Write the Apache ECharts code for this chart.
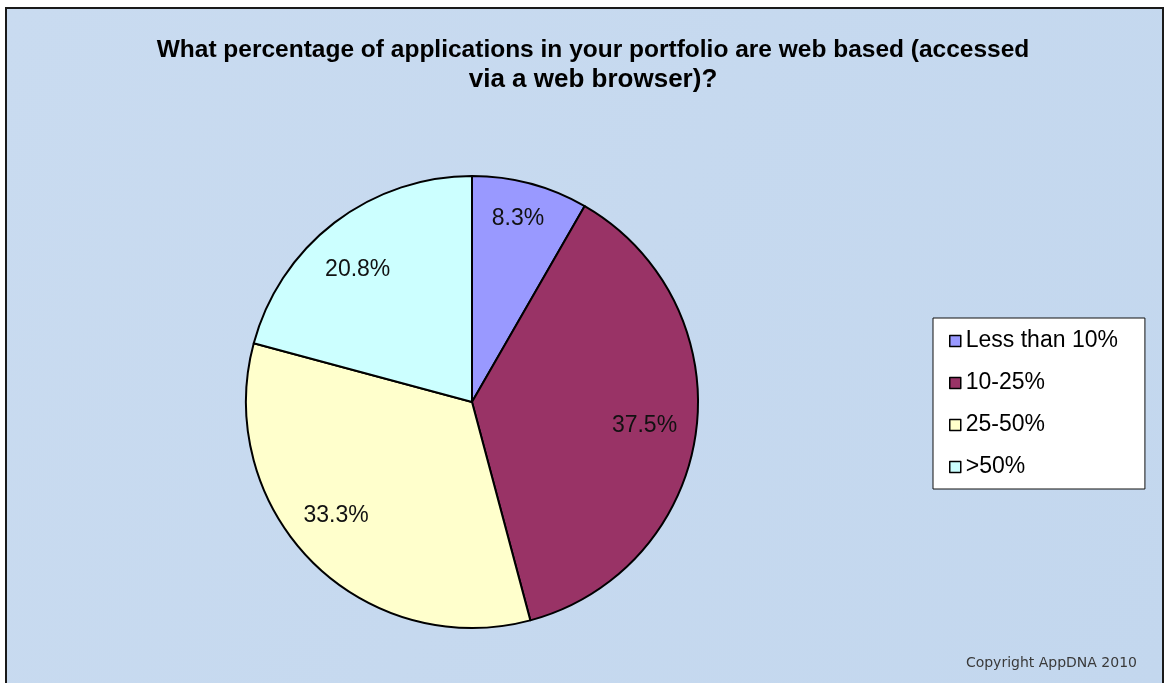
<!DOCTYPE html>
<html>
<head>
<meta charset="utf-8">
<script src="https://cdn.jsdelivr.net/npm/echarts@6/dist/echarts.min.js"></script>
<style>
  html, body { margin: 0; padding: 0; background: #ffffff; }
  #chart { position: absolute; left: 5px; top: 7px; width: 1155px; height: 678px; border: 2px solid #1a1a1a; border-bottom: none; }
</style>
</head>
<body>
<div id="chart"></div>
<script>
// categorias e valores
const categorias = ['Less than 10%', '10-25%', '25-50%', '>50%'];
const valores = [8.3, 37.5, 33.3, 20.8];
const cores = ['#9999ff', '#993366', '#ffffcc', '#ccffff'];
// pequenos ajustes dos rótulos (o Excel não os põe todos no mesmo raio)
const ajusteRotulos = [[0, -11], [-4, 0], [-10, -12], [-6, 9]];

const fonte = 'Liberation Sans, Arial, sans-serif';
const centro = [465, 393];

const dados = categorias.map((nome, i) => ({ name: nome, value: valores[i], itemStyle: { color: cores[i] } }));

const chart = echarts.init(document.getElementById('chart'));

chart.setOption({
  backgroundColor: new echarts.graphic.LinearGradient(0, 0, 1, 1, [
    { offset: 0, color: '#c9dbf0' },
    { offset: 1, color: '#c3d7ee' }
  ]),
  animation: false,
  color: cores,
  title: {
    text: '{a|What percentage of applications in your portfolio are web based (accessed}\n{b|via a web browser)?}',
    left: 581,
    textAlign: 'center',
    top: 22,
    textStyle: {
      rich: {
        a: { fontFamily: fonte, fontSize: 24.5, fontWeight: 'bold', color: '#000', lineHeight: 29, align: 'center' },
        b: { fontFamily: fonte, fontSize: 26, fontWeight: 'bold', color: '#000', lineHeight: 29, align: 'center' }
      }
    }
  },
  legend: {
    orient: 'vertical',
    left: 926,
    top: 309,
    backgroundColor: '#ffffff',
    borderColor: '#111',
    borderWidth: 1,
    padding: [11, 27, 10, 16],
    itemGap: 18,
    icon: 'rect',
    itemWidth: 11,
    itemHeight: 11,
    itemStyle: { borderColor: '#000', borderWidth: 1.5 },
    textStyle: { fontFamily: fonte, fontSize: 23, lineHeight: 24, color: '#000' },
    data: categorias
  },
  graphic: [{
    type: 'text',
    right: 25,
    bottom: 17,
    style: { text: 'Copyright AppDNA 2010', font: '14px "DejaVu Sans", sans-serif', fill: '#3a3a3a' }
  }],
  series: [
    {
      type: 'pie',
      center: centro,
      radius: [0, 226],
      startAngle: 90,
      clockwise: true,
      data: dados,
      label: { show: false },
      labelLine: { show: false },
      itemStyle: { borderColor: '#000', borderWidth: 2 },
      emphasis: { disabled: true }
    },
    {
      // série transparente só para posicionar os rótulos mais para fora
      type: 'pie',
      center: centro,
      radius: [124, 226],
      startAngle: 90,
      clockwise: true,
      silent: true,
      data: valores.map((v, i) => ({ name: categorias[i], value: v, label: { offset: ajusteRotulos[i] } })),
      itemStyle: { color: 'rgba(0,0,0,0)' },
      label: {
        show: true,
        position: 'inside',
        formatter: p => p.value.toFixed(1) + '%',
        fontFamily: fonte,
        fontSize: 23,
        color: '#111'
      },
      labelLine: { show: false },
      emphasis: { disabled: true },
      legendHoverLink: false
    }
  ]
});
</script>
</body>
</html>
